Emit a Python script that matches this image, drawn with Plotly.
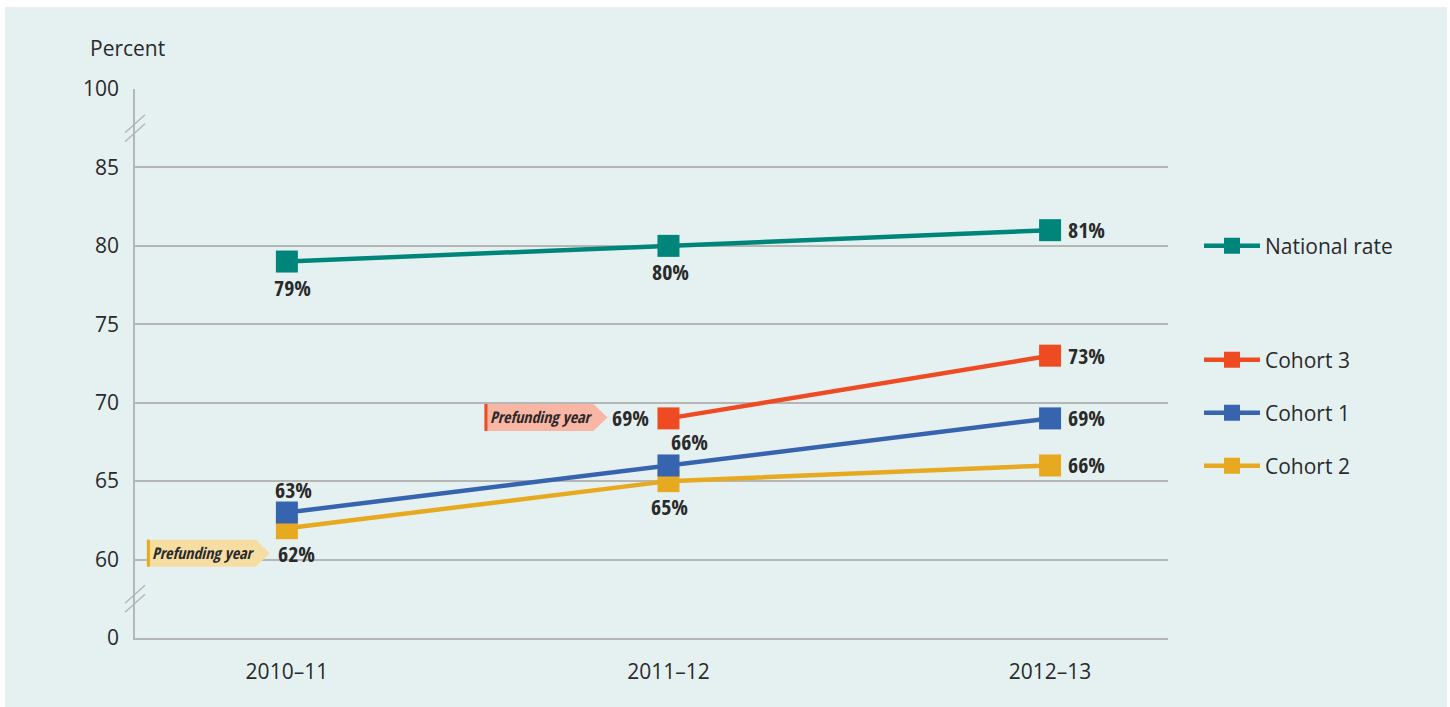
import plotly.graph_objects as go

# ---------------- data ----------------
years = ["2010–11", "2011–12", "2012–13"]
series_names = ["National rate", "Cohort 2", "Cohort 1", "Cohort 3"]
national_rate = [79, 80, 81]
cohort_2 = [62, 65, 66]
cohort_1 = [63, 66, 69]
cohort_3 = [None, 69, 73]
y_tick_values = [0, 60, 65, 70, 75, 80, 85, 100]
prefunding_year = {"Cohort 2": "2010–11", "Cohort 3": "2011–12"}
y_title = "Percent"
prefunding_text = "Prefunding year"

# label placement per point
label_place = {
    "National rate": [("below", 6), ("below", 2), ("right", 0)],
    "Cohort 2": [("below", 10), ("below", 1), ("right", 0)],
    "Cohort 1": [("above", 7), ("above", 21), ("right", 0)],
    "Cohort 3": [None, ("left", 0), ("right", 0)],
}

colors = {
    "National rate": "#00857a",
    "Cohort 3": "#ee4b23",
    "Cohort 1": "#3764ae",
    "Cohort 2": "#e6a91f",
}
callout_fill = {"Cohort 2": "#f6dea3", "Cohort 3": "#f9b6a5"}

values = {
    "National rate": national_rate,
    "Cohort 2": cohort_2,
    "Cohort 1": cohort_1,
    "Cohort 3": cohort_3,
}

# broken axis scale: 0 sits one step below 60, 100 one step above 85
def axis_pos(v):
    if v < 60:
        return 55
    if v > 85:
        return 90
    return v

x_idx = list(range(len(years)))
TEXT = "#2a2a2a"
GRID = "#b5b7b7"
BG = "#e5f1f1"
SANS = "Open Sans, Noto Sans, sans-serif"
COND = "Open Sans Condensed, Liberation Sans Narrow, DejaVu Sans Condensed, sans-serif"

def cond(s):
    return f'<span style="font-stretch:condensed">{s}</span>'

fig = go.Figure()

legend_ids = {"National rate": "legend", "Cohort 3": "legend2",
              "Cohort 1": "legend3", "Cohort 2": "legend4"}

for name in series_names:
    vals = values[name]
    fig.add_trace(go.Scatter(
        x=x_idx, y=vals, name=name, mode="lines+markers",
        line=dict(color=colors[name], width=4.5),
        marker=dict(symbol="square", size=22, color=colors[name]),
        legend=legend_ids[name], connectgaps=False, hoverinfo="skip",
    ))

annotations = []
for name in series_names:
    vals = values[name]
    for i, v in enumerate(vals):
        if v is None:
            continue
        kind, dx = label_place[name][i]
        a = dict(x=x_idx[i], y=v, xref="x", yref="y", text=cond(f"<b>{v}%</b>"),
                 showarrow=False, font=dict(family=COND, size=22, color=TEXT))
        if kind == "below":
            a.update(xanchor="center", yanchor="middle", xshift=dx, yshift=-25)
        elif kind == "above":
            a.update(xanchor="center", yanchor="middle", xshift=dx, yshift=24)
        elif kind == "right":
            a.update(xanchor="left", yanchor="middle", xshift=16, yshift=1)
        elif kind == "left":
            a.update(xanchor="right", yanchor="middle", xshift=-17, yshift=1)
        annotations.append(a)

shapes = []
# panel background
shapes.append(dict(type="rect", xref="paper", yref="paper", layer="below",
                   x0=(5 - 135) / 1033, x1=(1447 - 135) / 1033,
                   y0=(638 - 710) / 549, y1=(638 - 7) / 549,
                   fillcolor=BG, line=dict(width=0)))

# prefunding callouts
for name, yr in prefunding_year.items():
    i = years.index(yr)
    v = values[name][i]
    if name == "Cohort 2":
        left, boxr, tip, cy = -140, -31, -17, -25
    else:
        left, boxr, tip, cy = -184, -75, -61, 1
    h = 13.5
    path = (f"M {left},{cy - h} L {boxr},{cy - h} L {tip},{cy} "
            f"L {boxr},{cy + h} L {left},{cy + h} Z")
    shapes.append(dict(type="path", xref="x", yref="y",
                       xsizemode="pixel", ysizemode="pixel",
                       xanchor=x_idx[i], yanchor=v, path=path,
                       fillcolor=callout_fill[name], line=dict(width=0)))
    shapes.append(dict(type="rect", xref="x", yref="y",
                       xsizemode="pixel", ysizemode="pixel",
                       xanchor=x_idx[i], yanchor=v,
                       x0=left, x1=left + 3, y0=cy - h, y1=cy + h,
                       fillcolor=colors[name], line=dict(width=0)))
    annotations.append(dict(x=x_idx[i], y=v, xref="x", yref="y",
                            text=cond(f"<b><i>{prefunding_text}</i></b>"),
                            showarrow=False, xanchor="center", yanchor="middle",
                            xshift=(left + 3 + boxr) / 2 + 1, yshift=cy,
                            font=dict(family=COND, size=16, color=TEXT)))

# axis break marks
for mid in (57.5, 87.5):
    for off in (-4.5, 4.5):
        shapes.append(dict(type="line", xref="paper", yref="y",
                           xsizemode="pixel", ysizemode="pixel",
                           xanchor=0, yanchor=mid,
                           x0=-10, x1=10, y0=off - 9, y1=off + 9,
                           line=dict(color=GRID, width=1.5)))

# y-axis title
annotations.append(dict(x=(88 - 135) / 1033, y=(638 - 48) / 549, xref="paper", yref="paper",
                        text=y_title, showarrow=False, xanchor="left", yanchor="middle",
                        font=dict(family=SANS, size=21, color=TEXT)))

legend_common = dict(bgcolor="rgba(0,0,0,0)", font=dict(family=SANS, size=21, color=TEXT),
                     xanchor="left", yanchor="middle", x=1.03, itemwidth=56)
legend_y = {"legend": 246, "legend2": 360, "legend3": 413, "legend4": 466}

layout_legends = {k: dict(legend_common, y=(638 - py) / 549) for k, py in legend_y.items()}

fig.update_layout(
    width=1450, height=707,
    margin=dict(l=135, r=282, t=89, b=69),
    paper_bgcolor="white",
    plot_bgcolor="rgba(0,0,0,0)",
    font=dict(family=SANS, size=21, color=TEXT),
    showlegend=True,
    annotations=annotations,
    shapes=shapes,
    xaxis=dict(range=[-0.398, 2.309], tickvals=x_idx, ticktext=years,
               showgrid=False, zeroline=False, showline=True, linecolor=GRID,
               linewidth=1.5, ticks="", ticklabelstandoff=14,
               tickfont=dict(family=SANS, size=21, color=TEXT), fixedrange=True),
    yaxis=dict(range=[55, 90], tickvals=[axis_pos(v) for v in y_tick_values],
               ticktext=[str(v) for v in y_tick_values],
               showgrid=True, gridcolor=GRID, gridwidth=1.5, zeroline=False,
               showline=True, linecolor=GRID, linewidth=1.5, ticks="",
               ticklabelstandoff=10,
               tickfont=dict(family=SANS, size=21, color=TEXT), fixedrange=True),
    **layout_legends,
)

fig.write_html("out.html", config={"displayModeBar": False},
               post_script="document.body.style.margin='0';")
